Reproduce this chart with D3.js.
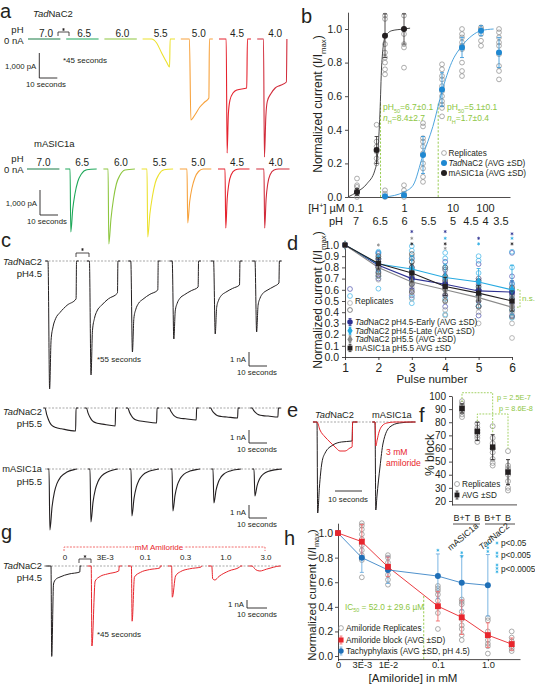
<!DOCTYPE html>
<html><head><meta charset="utf-8">
<script src="https://cdn.jsdelivr.net/npm/d3@7/dist/d3.min.js"></script>
<style>
html,body{margin:0;padding:0;background:#fff;}
svg text{font-family:"Liberation Sans",Arial,Helvetica,sans-serif;}
</style></head><body>
<svg id="fig" width="535" height="685" viewBox="0 0 535 685"></svg>
<script>
// ================= DATA =================
// ---- a: pH steps, colours, sweeps [time s, current nA]
const pHSteps = ["7.0","6.5","6.0","5.5","5.0","4.5","4.0"];
const pHColors = ["#1b7c46","#1fa85a","#8dc63f","#ece12e","#f7a23c","#e5232e","#d12c3b"];
const aTadSweeps = [
  [[0,0],[18,0]],
  [[0,0],[18,0]],
  [[0,0],[18,0]],
  [[0,0],[5,0],[7.8,-0.16],[10.6,-0.56],[13.3,-0.92],[15,-1.12],[15.3,0],[18,0]],
  [[0,0],[4.8,0],[5.6,-3.24],[7.8,-3.04],[10.6,-2.72],[13.3,-2.52],[15.6,-2.36],[15.9,0],[17.8,0]],
  [[0,0],[4.0,0],[4.5,-4.56],[5.2,-3.0],[6.1,-2.44],[7.8,-2.16],[10,-2.04],[15.4,-1.96],[15.8,0],[17.8,0]],
  [[0,0],[3.5,0],[4.0,-4.72],[4.8,-3.1],[5.6,-2.5],[7.5,-2.2],[10,-1.96],[13,-1.85],[16.2,-1.72],[16.5,0]]
];
const aAsicSweeps = [
  [[0,0],[18,0]],
  [[0,0],[2.7,0],[3.1,-2.52],[4.2,-1.6],[5.4,-1.0],[7,-0.5],[9,-0.2],[12,-0.03],[17.5,0]],
  [[0,0],[2.6,0],[3.0,-3.0],[4.2,-2.0],[5.6,-1.2],[7.2,-0.6],[9.2,-0.25],[12,-0.04],[17.5,0]],
  [[0,0],[3.0,0],[3.4,-2.72],[4.6,-1.8],[6,-1.1],[7.6,-0.55],[9.6,-0.22],[12.5,-0.03],[17.5,0]],
  [[0,0],[4.0,0],[4.4,-2.16],[5.5,-1.3],[6.8,-0.75],[8.4,-0.35],[10.4,-0.1],[13,0],[17.5,0]],
  [[0,0],[3.9,0],[4.3,-2.36],[5.1,-1.2],[6.0,-0.6],[7.4,-0.22],[9.5,-0.04],[12,0],[17.5,0]],
  [[0,0],[4.3,0],[4.7,-2.36],[5.5,-1.2],[6.4,-0.6],[7.8,-0.22],[9.9,-0.04],[12.4,0],[18.5,0]]
];

// ---- b: pH response
const bRepPH = [7, 6.65, 6.5, 6.5, 6, 6, 5.5, 5, 4.5, 4, 3.5];
const bRepVals = [
  [0.0,0.02,0.04,0.06,0.07,0.11],
  [0.2,0.23,0.27,0.3,0.33,0.43],
  [0.73,0.76,0.8,0.83,0.86,0.91,1.06,1.08],
  [0.0,0.02,0.04],
  [0.77,0.89,0.91,0.97,1.0,1.08],
  [0.0,0.02,0.04,0.07],
  [0.09,0.12,0.17,0.2,0.26,0.3,0.33,0.35,0.42,0.44],
  [0.48,0.53,0.55,0.57,0.6,0.63,0.66,0.7,0.72,0.76,0.79],
  [0.72,0.75,0.8,0.88,0.9,0.92,0.95,0.97,1.0],
  [0.9,0.93,0.97,1.0,1.01],
  [0.7,0.75,0.78,0.85,0.9,0.92,0.95,0.98,1.0]
];
const bAsicPH = [7, 6.65, 6.5, 6];
const bAsicMean = [0.03, 0.28, 0.96, 1.0];
const bAsicSD = [0.02, 0.08, 0.13, 0.09];
const bTadPH = [6.5, 6, 5.5, 5, 4.5, 4, 3.5];
const bTadMean = [0.005, 0.01, 0.25, 0.64, 0.89, 0.99, 0.86];
const bTadSD = [0.005, 0.01, 0.11, 0.1, 0.06, 0.03, 0.09];
const bAsicFit = [[7.16,0],[7.0,0.03],[6.82,0.08],[6.68,0.16],[6.63,0.26],[6.59,0.5],[6.56,0.78],[6.5,0.95],[6.32,0.99],[6.0,1.0],[5.84,1.005]];
const bTadFit = [[6.5,0],[6.0,0.03],[5.76,0.07],[5.5,0.25],[5.24,0.42],[5.0,0.63],[4.76,0.8],[4.5,0.9],[4.24,0.96],[4.0,0.99],[3.65,1.0]];
const bPH50 = [6.58, 5.1];
const bHLabels = ["0.1","1","10","100"];
const bHLabelPH = [7, 6, 5, 4];
const bPHLabels = ["7","6.5","6","5.5","5","4.5","4","3.5"];

// ---- c: pulse trains
const cTransShape = [[0.9,1],[1.7,0.46],[2.8,0.31],[4.2,0.22],[6.7,0.15],[10.6,0.07]];
const cPeak45 = [9.14, 8.14, 6.5, 5.57, 5.21, 5.07];
const cSus45  = [2.71, 2.29, 2.07, 1.86, 1.71, 1.57];
const cDur45  = [15.6, 15.6, 15.0, 14.4, 14.4, 13.3];
const cSlowShape = [[1,0.3],[2,0.52],[3,0.68],[4,0.77],[6,0.85],[9,0.9]];
const cLevel55 = [1.77, 1.38, 1.15, 0.92, 0.77, 0.69];
const cDur55 = [17, 16, 16, 15, 15, 14.4];
const cFastShape = [[0.5,1],[1.7,0.62],[3,0.38],[4.4,0.24],[6.5,0.13],[10,0.05],[14,0.01],[15.5,0]];
const cPeakM = [4.69, 4.08, 3.62, 3.23, 2.62, 2.08];

// ---- d: tachyphylaxis
const dPulses = [1,2,3,4,5,6];
const dMeans = [
  [1.0,0.82,0.70,0.65,0.59,0.58],
  [1.0,0.83,0.785,0.71,0.67,0.60],
  [1.0,0.80,0.67,0.60,0.53,0.445],
  [1.0,0.835,0.75,0.63,0.57,0.50]
];
const dSDs = [
  [0,0.05,0.09,0.1,0.1,0.1],
  [0,0.07,0.12,0.12,0.12,0.22],
  [0,0.06,0.1,0.12,0.1,0.1],
  [0,0.05,0.08,0.08,0.07,0.09]
];
const dReps = [
  [[],[0.70,0.75,0.80,0.85,0.88,0.92,0.93],[0.55,0.6,0.65,0.7,0.75,0.8,0.88],[0.45,0.55,0.62,0.66,0.7,0.78,0.85],[0.37,0.45,0.55,0.6,0.65,0.7,0.83],[0.37,0.45,0.55,0.6,0.65,0.72,0.93]],
  [[],[0.61,0.72,0.78,0.84,0.88,0.93,0.94],[0.48,0.53,0.68,0.78,0.88,0.95,0.99],[0.38,0.52,0.65,0.72,0.8,0.88,0.93],[0.46,0.55,0.62,0.68,0.75,0.86,0.9],[0.35,0.42,0.52,0.6,0.66,0.8,0.94]],
  [[],[0.69,0.72,0.75,0.8,0.83,0.88,0.9],[0.52,0.58,0.62,0.66,0.7,0.75,0.85,0.9],[0.37,0.42,0.5,0.56,0.62,0.68,0.72,0.78],[0.3,0.4,0.45,0.5,0.55,0.6,0.7],[0.17,0.3,0.4,0.45,0.5,0.55,0.62]],
  [[],[0.73,0.76,0.8,0.85,0.87,0.9],[0.58,0.65,0.72,0.76,0.8,0.85,0.92],[0.5,0.55,0.6,0.64,0.68,0.72,0.8],[0.45,0.5,0.55,0.6,0.63,0.68],[0.36,0.42,0.48,0.52,0.57,0.62]]
];
const dColors = ["#2e3192","#27aae1","#8a8a8a","#231f20"];
const dRepColors = ["#4d51ad","#3cb3e6","#9b9b9b","#555555"];
const dStars = [[2,1.0,2],[3,1.12,0],[3,1.06,2],[3,1.01,3],[4,1.12,0],[4,1.06,1],[4,1.01,3],[4,0.97,2],[5,1.06,0],[5,1.01,1],[6,1.1,0],[6,1.06,1],[6,1.01,3]];

// ---- e: amiloride example traces [s after onset, nA]
const eTadCtrl = [[-1.5,0],[0,0],[0.25,-9.1],[0.9,-6.5],[1.8,-4.1],[3,-3.1],[5.9,-2.3],[9,-2.0],[13,-1.9],[13.2,0],[15,0]];
const eTadAmil = [[-1.5,0],[0,0],[1.1,-0.8],[3,-1.5],[4.8,-2.0],[6.7,-2.5],[8.5,-2.9],[10.4,-2.9],[12.2,-2.6],[13,-2.5],[13.2,0],[15,0]];
const eAsicCtrl = [[-1,0],[0,0],[0.3,-8.8],[0.7,-7.5],[1.85,-4.5],[3,-2.1],[5.5,-0.5],[9,-0.1],[14,0],[15,0]];
const eAsicAmil = [[-1,0],[0,0],[0.3,-2.4],[0.8,-1.8],[1.5,-1.0],[2.6,-0.4],[4.4,-0.1],[7.4,0],[15,0]];

// ---- f: % block
const fCats = ["mASIC1a B+T","mASIC1a B","TadNaC2 B+T","TadNaC2 B"];
const fTickLabels = ["B+T","B","B+T","B"];
const fMean = [90.5, 73, 61, 42];
const fSD = [3.5, 7, 9.5, 9.5];
const fReps = [[84,86,88,90,92,94,96],[65,68,70,72,74,76,79],[47,49,52,57,60,64,68,77],[28,30,35,40,43,45,47,58]];
const fPvals = ["p = 2.5E-7","p = 8.6E-8"];

// ---- g: amiloride series traces [s after onset, nA]
const gConcLabels = ["0","3E-3","0.1","0.3","1.0","3.0"];
const gSweeps = [
  [[-3,0],[0,0],[0.4,-11.3],[1.4,-2.25],[2.5,-1.7],[5,-1.375],[10,-1.0],[16,-0.75],[16.2,0],[17,0]],
  [[-2,0],[0,0],[0.4,-10],[2.2,-1.875],[5,-1.3],[8.9,-1.0],[15.3,-0.625],[15.6,0],[17,0]],
  [[-2,0],[0,0],[0.4,-6.9],[1.7,-1.375],[5,-0.8],[10,-0.45],[15.8,-0.25],[16.1,0],[17,0]],
  [[-2,0],[0,0],[0.4,-3.9],[2.2,-1.25],[5,-0.7],[10,-0.35],[16.4,-0.125],[16.7,0],[17,0]],
  [[-2,0],[0,0],[0.5,-1.6],[1.7,-1.75],[4,-1.3],[9.4,-0.625],[15.5,-0.125],[16,0],[17,0]],
  [[-2,0],[0,0],[2,-0.45],[4.4,-0.625],[8,-0.4],[12,-0.15],[15.5,0],[16,0]]
];

// ---- h: dose response
const hConc = [0, 3e-3, 1e-2, 0.1, 0.3, 1.0, 3.0];
const hBlock = [1.0, 0.93, 0.725, 0.405, 0.315, 0.17, 0.097];
const hBlockSD = [0, 0.14, 0.08, 0.12, 0.14, 0.10, 0.05];
const hTachy = [1.0, 0.80, 0.70, 0.65, 0.595, 0.575];
const hTachySD = [0, 0.12, 0.11, 0.18, 0.22, 0.25];
const hReps = [
  [],
  [0.64,0.78,0.82,0.86,0.9,0.95,0.99,1.03,1.06,1.08],
  [0.58,0.62,0.66,0.70,0.73,0.76,0.80,0.82],
  [0.22,0.35,0.40,0.45,0.50,0.53,0.55,0.57],
  [0.13,0.17,0.22,0.25,0.30,0.36,0.42,0.44,0.46],
  [0.02,0.08,0.10,0.13,0.17,0.20,0.29,0.31],
  [0.04,0.06,0.08,0.10,0.12,0.15,0.20]
];
const hTickConc = [0, 3e-3, 1e-2, 0.1, 1.0];
const hTickLabels = ["0","3E-3","1E-2","0.1","1.0"];
const hStars = [[0.1,0.86],[0.3,0.84],[0.3,0.81],[1.0,0.91],[1.0,0.88],[1.0,0.85]];
const hIC50 = 0.052;

// ================= DRAWING =================
const svg = d3.select("#fig");
const INK = "#231f20", GREEN = "#8dc63f", RED = "#e8262d", LBLUE = "#29abe2";

function T(x, y, parts, o = {}) {
  const fs = o.size || 9;
  let t;
  if (o.rotate != null) {
    t = svg.append("g").attr("transform", `translate(${x},${y}) rotate(${o.rotate})`).append("text").attr("x", 0).attr("y", 0);
  } else {
    t = svg.append("text").attr("x", x).attr("y", y);
  }
  t.attr("font-size", fs).attr("fill", o.fill || INK).attr("text-anchor", o.anchor || "start");
  let shift = 0;
  (Array.isArray(parts) ? parts : [parts]).forEach(p => {
    if (typeof p === "string") p = { s: p };
    const sp = t.append("tspan").text(p.s);
    const target = p.sub ? fs * 0.3 : p.sup ? -fs * 0.4 : 0;
    if (target !== shift) { sp.attr("dy", target - shift); shift = target; }
    if (p.sub || p.sup) sp.attr("font-size", fs * 0.65);
    if (p.i) sp.attr("font-style", "italic");
  });
  return t;
}
const TAD = { s: "Tad", i: true };
function L(x1, y1, x2, y2, color, w, dash) {
  const l = svg.append("line").attr("x1", x1).attr("y1", y1).attr("x2", x2).attr("y2", y2)
    .attr("stroke", color || INK).attr("stroke-width", w || 0.8);
  if (dash) l.attr("stroke-dasharray", dash);
  return l;
}
function P(d, color, w, dash) {
  const p = svg.append("path").attr("d", d).attr("fill", "none").attr("stroke", color || INK).attr("stroke-width", w || 0.8);
  if (dash) p.attr("stroke-dasharray", dash);
  return p;
}
function C(x, y, r, stroke, fill, w) {
  return svg.append("circle").attr("cx", x).attr("cy", y).attr("r", r)
    .attr("stroke", stroke || "none").attr("fill", fill || "none").attr("stroke-width", w || 0.7);
}
function S(type, x, y, size, fill) {
  svg.append("path").attr("d", d3.symbol().type(type).size(size)()).attr("transform", `translate(${x},${y})`).attr("fill", fill);
}
function E(x, yA, yB, color, cap, w) {
  L(x, yA, x, yB, color, w || 0.8);
  L(x - cap, yA, x + cap, yA, color, w || 0.8);
  L(x - cap, yB, x + cap, yB, color, w || 0.8);
}
function star(x, y, color, r) {
  r = r || 1.7;
  const d = [0, 60, 120].map(a => {
    const rad = a * Math.PI / 180, ddx = r * Math.sin(rad), ddy = r * Math.cos(rad);
    return `M${x - ddx},${y - ddy}L${x + ddx},${y + ddy}`;
  }).join("");
  P(d, color, 0.75);
}
function trace(points, x0, tS, yS, color, w) {
  svg.append("path").datum(points)
    .attr("d", d3.line().x(d => x0 + tS(d[0])).y(d => yS(d[1])).curve(d3.curveMonotoneX))
    .attr("fill", "none").attr("stroke", color).attr("stroke-width", w || 1).attr("stroke-linejoin", "round");
}
function styleAxis(g, fs) {
  g.attr("font-size", fs);
  g.selectAll("path.domain").attr("stroke", INK).attr("stroke-width", 0.8);
  g.selectAll(".tick line").attr("stroke", INK).attr("stroke-width", 0.8);
  g.selectAll(".tick text").attr("fill", INK);
}
function scaleBar(x, yTop, vLen, hLen, vLab, hLab, hx) {
  P(`M${x},${yTop}V${yTop + vLen}H${x + hLen}`, INK, 0.9);
  if (vLab) T(x - 3, yTop + vLen / 2 + 3, vLab, { size: 7.8, anchor: "end" });
  T(hx, yTop + vLen + 9, hLab, { size: 7.8 });
}

// panel letters
[["a",0,18],["b",301,23],["c",1,247],["d",287,250],["e",287,417],["f",419,422],["g",1,539],["h",284,545]]
  .forEach(([s, x, y]) => T(x, y, s, { size: 20 }));

// ---------- Panel a ----------
const aT = d3.scaleLinear().domain([0, 10]).range([0, 18]);
const aY1 = d3.scaleLinear().domain([0, -1]).range([39, 64]);
const aY2 = d3.scaleLinear().domain([0, -1]).range([169, 194]);
const aStep = 38.2;
aTadSweeps.forEach((s, i) => trace(s, 28 + i * aStep, aT, aY1, pHColors[i], 1.1));
aAsicSweeps.forEach((s, i) => trace(s, 27 + i * aStep, aT, aY2, pHColors[i], 1.1));
T(33, 17, [TAD, "NaC2"], { size: 9.5 });
T(34, 146.5, "mASIC1a", { size: 9.5 });
T(23.5, 33, "pH", { size: 9.5, anchor: "end" });
T(23.5, 43.5, "0 nA", { size: 9.5, anchor: "end" });
T(23.5, 162, "pH", { size: 9.5, anchor: "end" });
T(23.5, 173, "0 nA", { size: 9.5, anchor: "end" });
pHSteps.forEach((p, i) => {
  T(46 + i * aStep, 36.5, p, { size: 10, anchor: "middle" });
  T(43.5 + i * 38.7, 165.5, p, { size: 10, anchor: "middle" });
});
P("M58,36V32H69V36", INK, 0.8);
star(63.5, 29.5, INK, 1.4);
T(63, 63, "*45 seconds", { size: 8 });
scaleBar(39.3, aY1(0) + 14, aY1(-1) - aY1(0), aT(10), "1,000 pA", "10 seconds", 26);
scaleBar(40, aY2(0) + 21, aY2(-1) - aY2(0), aT(10), "1,000 pA", "10 seconds", 27);

// ---------- Panel b ----------
const bx = d3.scaleLinear().domain([7.16,7,6.5,6,5.5,5,4.5,4,3.5,3.2]).range([348,357,385,404,423,442,462,481,499,510]);
const by = d3.scaleLinear().domain([0, 1.1]).range([197, 12.2]);
const bxl = d3.scaleLinear().domain([7,5,4.5,4,3.5]).range([356,453,471,485.5,501]);
styleAxis(svg.append("g").attr("transform", "translate(348,0)")
  .call(d3.axisLeft(by).tickValues([0,0.2,0.4,0.6,0.8,1.0]).tickFormat(d3.format(".1f")).tickSize(3).tickSizeOuter(0)), 10.5);
styleAxis(svg.append("g").attr("transform", "translate(0,197)")
  .call(d3.axisBottom(bx).tickValues([]).tickSizeOuter(0)), 10);
bPH50.forEach(p => L(bx(p), by(0), bx(p), by(0.56), GREEN, 0.9, "2.2,1.6"));
bRepPH.forEach((p, i) => bRepVals[i].forEach(v => C(bx(p), by(v), 2.4, "#8a8a8a", "none", 0.7)));
const bLine = d3.line().x(d => bx(d[0])).y(d => by(d[1])).curve(d3.curveMonotoneX);
P(bLine(bAsicFit), "#333", 0.9);
P(bLine(bTadFit), "#3a9ad9", 0.9);
bAsicPH.forEach((p, i) => { E(bx(p), by(bAsicMean[i] + bAsicSD[i]), by(bAsicMean[i] - bAsicSD[i]), INK, 2, 0.8); C(bx(p), by(bAsicMean[i]), 3, "none", INK); });
bTadPH.forEach((p, i) => { E(bx(p), by(bTadMean[i] + bTadSD[i]), by(bTadMean[i] - bTadSD[i]), "#2a8fd6", 2, 0.8); C(bx(p), by(bTadMean[i]), 3, "none", "#1f88d1"); });
T(383, 110, ["pH", { s: "50", sub: true }, "=6.7±0.1"], { size: 8.5, fill: GREEN });
T(383, 121, [{ s: "n", i: true }, { s: "H", sub: true }, "=8.4±2.7"], { size: 8.5, fill: GREEN });
T(447, 110, ["pH", { s: "50", sub: true }, "=5.1±0.1"], { size: 8.5, fill: GREEN });
T(447, 121, [{ s: "n", i: true }, { s: "H", sub: true }, "=1.7±0.4"], { size: 8.5, fill: GREEN });
C(444, 153, 2.4, "#8a8a8a");
T(448.5, 156, "Replicates", { size: 8.2 });
C(444, 163, 3, "none", "#1f88d1");
T(448.5, 166, [TAD, "NaC2 (AVG ±SD)"], { size: 8.2 });
C(444, 173, 3, "none", INK);
T(448.5, 176, "mASIC1a (AVG ±SD)", { size: 8.2 });
T(322, 104, ["Normalized current (I/I", { s: "max", sub: true }, ")"], { size: 12, anchor: "middle", rotate: -90 });
T(345, 212, ["[H", { s: "+", sup: true }, "] µM"], { size: 11, anchor: "end" });
T(343, 225, "pH", { size: 11, anchor: "end" });
bHLabels.forEach((s, i) => T(bxl(bHLabelPH[i]), 212, s, { size: 11, anchor: "middle" }));
bPHLabels.forEach(s => T(bxl(+s), 225, s, { size: 11, anchor: "middle" }));

// ---------- Panel c ----------
const cT = d3.scaleLinear().domain([0, 10]).range([0, 18]);
const cY45 = d3.scaleLinear().domain([0, -1]).range([261, 275]);
const cY55 = d3.scaleLinear().domain([0, -1]).range([408, 421]);
const cYM = d3.scaleLinear().domain([0, -1]).range([469, 482]);
[261, 408, 469].forEach(y => L(45, y, 282, y, "#6d6d6d", 0.6, "2,1.5"));
cPeak45.forEach((Pk, i) => {
  const Sv = cSus45[i], d = cDur45[i];
  const pts = [[-1.5, 0], [0, 0]].concat(cTransShape.map(([t, g]) => [t, -(Sv + (Pk - Sv) * g)]), [[d, -Sv], [d + 0.25, 0], [d + 1.5, 0]]);
  trace(pts, 48 + i * 41.4, cT, cY45, INK, 1);
});
cLevel55.forEach((Lv, i) => {
  const d = cDur55[i];
  const pts = [[-1, 0], [0, 0]].concat(cSlowShape.map(([t, f]) => [t, -Lv * f]), [[d, -Lv], [d + 0.25, 0], [d + 1.5, 0]]);
  trace(pts, 45 + i * 41.4, cT, cY55, INK, 1.1);
});
cPeakM.forEach((Pk, i) => {
  const pts = [[-1, 0], [0, 0]].concat(cFastShape.map(([t, f]) => [t, -Pk * f]));
  trace(pts, 49 + i * 41, cT, cYM, INK, 1.1);
});
T(42, 265, [TAD, "NaC2"], { size: 9.3, anchor: "end" });
T(42, 277, "pH4.5", { size: 9.5, anchor: "end" });
T(42, 415, [TAD, "NaC2"], { size: 9.3, anchor: "end" });
T(42, 427, "pH5.5", { size: 9.5, anchor: "end" });
T(42, 472, "mASIC1a", { size: 9.3, anchor: "end" });
T(42, 485, "pH5.5", { size: 9.5, anchor: "end" });
P("M76,257V253H89V257", INK, 0.8);
star(82.5, 249.5, INK, 1.4);
T(97, 362, "*55 seconds", { size: 8 });
scaleBar(249, 352, cY45(-1) - cY45(0), cT(10), "1 nA", "10 seconds", 237);
scaleBar(249, 430, cY55(-1) - cY55(0), cT(10), "1 nA", "10 seconds", 237);
scaleBar(249, 505, cYM(-1) - cYM(0), cT(10), "1 nA", "10 seconds", 237);

// ---------- Panel d ----------
const dx = d3.scaleLinear().domain([1, 6]).range([345, 512]);
const dy = d3.scaleLinear().domain([0, 1]).range([357, 245]);
styleAxis(svg.append("g").attr("transform", "translate(345,0)")
  .call(d3.axisLeft(dy).tickValues([0,0.1,0.2,0.3,0.4,0.5,0.6,0.7,0.8,0.9,1.0]).tickFormat(d3.format(".1f")).tickSize(3).tickSizeOuter(0)), 10.5);
styleAxis(svg.append("g").attr("transform", "translate(0,357)")
  .call(d3.axisBottom(dx).tickValues(dPulses).tickFormat(d3.format("d")).tickSize(3).tickSizeOuter(0)), 12);
dReps.forEach((series, k) => series.forEach((vals, j) => vals.forEach(v => C(dx(dPulses[j]), dy(v), 2.4, dRepColors[k], "none", 0.7))));
const dSym = [d3.symbolCircle, d3.symbolDiamond, d3.symbolDiamond, d3.symbolSquare];
const dLine = d3.line().x((d, j) => dx(dPulses[j])).y(d => dy(d));
dMeans.forEach((m, k) => P(dLine(m), dColors[k], 1.1));
dMeans.forEach((m, k) => m.forEach((v, j) => {
  if (dSDs[k][j] > 0) E(dx(dPulses[j]), dy(v + dSDs[k][j]), dy(v - dSDs[k][j]), dColors[k], 2, 0.8);
  S(dSym[k], dx(dPulses[j]), dy(v), 26, dColors[k]);
}));
dStars.forEach(([p, v, k]) => star(dx(p), dy(v), dColors[k], 1.6));
// n.s. bracket
P(`M${dx(6) + 5},${dy(dMeans[1][5])}H${dx(6) + 8}V${dy(dMeans[2][5])}H${dx(6) + 5}`, GREEN, 0.8, "1.8,1.3");
T(dx(6) + 10, (dy(dMeans[1][5]) + dy(dMeans[2][5])) / 2 + 3, "n.s.", { size: 8, fill: GREEN });
// legend
[0, 1, 2, 3].forEach(k => C(350, 289 + k * 7, 2.4, dRepColors[k], "none", 0.7));
T(355, 304, "Replicates", { size: 8.2 });
const dLegText = [[TAD, "NaC2 pH4.5-Early (AVG ±SD)"], [TAD, "NaC2 pH4.5-Late (AVG ±SD)"], [TAD, "NaC2 pH5.5 (AVG ±SD)"], ["mASIC1a pH5.5 AVG ±SD"]];
dLegText.forEach((tx, k) => {
  const y = 322 + k * 8.7;
  E(350, y - 3.5, y + 3.5, dColors[k], 1.5, 0.8);
  S(dSym[k], 350, y, 24, dColors[k]);
  T(355, y + 3, tx, { size: 8.2 });
});
T(322, 300, ["Normalized current (I/I", { s: "max", sub: true }, ")"], { size: 12, anchor: "middle", rotate: -90 });
T(432, 383, "Pulse number", { size: 11.5, anchor: "middle" });

// ---------- Panel e ----------
const eT = d3.scaleLinear().domain([0, 10]).range([0, 27]);
const eY = d3.scaleLinear().domain([0, -1]).range([422, 432]);
L(313, 422, 415, 422, "#6d6d6d", 0.6, "2,1.5");
trace(eTadCtrl, 317, eT, eY, INK, 1);
trace(eTadAmil, 317, eT, eY, RED, 1);
trace(eAsicCtrl, 375, eT, eY, INK, 1);
trace(eAsicAmil, 375, eT, eY, RED, 1);
T(315, 418, [TAD, "NaC2"], { size: 9.3 });
T(372, 418, "mASIC1a", { size: 9.3 });
T(386, 455, "3 mM", { size: 8.6, fill: RED });
T(386, 466, "amiloride", { size: 8.6, fill: RED });
L(335, 491, 335 + eT(10), 491, INK, 0.9);
T(328, 502, "10 seconds", { size: 7.8 });

// ---------- Panel f ----------
const fx = d3.scalePoint().domain(fCats).range([462, 508]);
const fy = d3.scaleLinear().domain([17, 100]).range([504.9, 396]);
styleAxis(svg.append("g").attr("transform", "translate(452,0)")
  .call(d3.axisLeft(fy).tickValues([20,30,40,50,60,70,80,90,100]).tickSize(3).tickSizeOuter(0)), 10);
L(452, fy(17), 517, fy(17), INK, 0.8);
fCats.forEach((c, i) => {
  fReps[i].forEach(v => C(fx(c), fy(v), 2.5, "#8a8a8a", "none", 0.7));
  E(fx(c), fy(fMean[i] + fSD[i]), fy(fMean[i] - fSD[i]), INK, 2, 0.9);
  S(d3.symbolSquare, fx(c), fy(fMean[i]), 30, INK);
  T(fx(c), 521, fTickLabels[i], { size: 9, anchor: "middle" });
});
L(453, 524, 480, 524, INK, 0.8);
L(485, 524, 515, 524, INK, 0.8);
T(479, 527, "mASIC1a", { size: 8.7, anchor: "end", rotate: -40 });
T(510, 527, [TAD, "NaC2"], { size: 8.7, anchor: "end", rotate: -40 });
P(`M${fx(fCats[0])},${fy(fMean[0] + fSD[0]) - 2}V${fy(102.5)}H${fx(fCats[2])}V${fy(fMean[2] + fSD[2]) - 1}`, GREEN, 0.8, "1.8,1.3");
P(`M${fx(fCats[1])},${fy(fMean[1] + fSD[1]) - 1}V${fy(86.3)}H${fx(fCats[3])}V${fy(60)}`, GREEN, 0.8, "1.8,1.3");
T(497, 400, fPvals[0], { size: 7.3, fill: GREEN });
T(499, 411, fPvals[1], { size: 7.3, fill: GREEN });
C(457, 484, 2.5, "#8a8a8a");
T(462, 487, "Replicates", { size: 8.2 });
E(457, 491, 499, INK, 1.5, 0.8);
S(d3.symbolSquare, 457, 495, 24, INK);
T(462, 498, "AVG ±SD", { size: 8.2 });
T(434, 455, "% block", { size: 12, anchor: "middle", rotate: -90 });

// ---------- Panel g ----------
const gT = d3.scaleLinear().domain([0, 10]).range([0, 18]);
const gY = d3.scaleLinear().domain([0, -1]).range([566, 574]);
L(44, 566, 281, 566, "#6d6d6d", 0.6, "2,1.5");
gSweeps.forEach((s, i) => trace(s, 51 + i * 40.2, gT, gY, i === 0 ? INK : RED, 1));
P("M64,551V547H265V551", "#ef4a4a", 0.8, "2,1.3");
svg.append("rect").attr("x", 134).attr("y", 542).attr("width", 50).attr("height", 9).attr("fill", "#fff");
T(159, 550, "mM Amiloride", { size: 8, anchor: "middle", fill: RED });
gConcLabels.forEach((s, i) => T(51 + i * 40.2 + 14, 560, s, { size: 8, anchor: "middle" }));
P("M79,563V559H91V563", INK, 0.8);
star(85, 556.5, INK, 1.4);
T(42, 569, [TAD, "NaC2"], { size: 9.3, anchor: "end" });
T(42, 581, "pH4.5", { size: 9.5, anchor: "end" });
T(97, 637, "*45 seconds", { size: 8 });
scaleBar(247, 600, gY(-1) - gY(0), 20, "1 nA", "10 seconds", 237);

// ---------- Panel h ----------
const hx = d3.scaleLog().domain([1e-3, 4.4]).range([338, 520]);
const hy = d3.scaleLinear().domain([-0.025, 1.08]).range([659.1, 523.2]);
const hX = c => hx(c === 0 ? 1e-3 : c);
styleAxis(svg.append("g").attr("transform", "translate(338,0)")
  .call(d3.axisLeft(hy).tickValues([0,0.2,0.4,0.6,0.8,1.0]).tickFormat(d3.format(".1f")).tickSize(3).tickPadding(2).tickSizeOuter(0)), 10.5);
const hxAx = svg.append("g").attr("transform", `translate(0,${hy(-0.025)})`)
  .call(d3.axisBottom(hx).tickValues(hTickConc.map(c => c === 0 ? 1e-3 : c)).tickFormat((d, i) => hTickLabels[i]).tickSize(2).tickPadding(0.5).tickSizeOuter(0));
styleAxis(hxAx, 9.3);
L(hX(hIC50), hy(0) + 3, hX(hIC50), hy(0.5), GREEN, 0.9, "2.2,1.6");
hConc.forEach((c, i) => hReps[i].forEach(v => C(hX(c), hy(v), 2.4, "#8a8a8a", "none", 0.7)));
const hLine = d3.line().x((d, i) => hX(hConc[i])).y(d => hy(d));
P(hLine(hBlock), RED, 0.9);
P(hLine(hTachy), "#3b84c6", 0.9);
hTachy.forEach((v, i) => { if (hTachySD[i] > 0) E(hX(hConc[i]), hy(v + hTachySD[i]), hy(v - hTachySD[i]), "#6eaee0", 2, 0.9); });
hBlock.forEach((v, i) => { if (hBlockSD[i] > 0) E(hX(hConc[i]), hy(v + hBlockSD[i]), hy(v - hBlockSD[i]), "#f26b6b", 2, 0.9); });
hTachy.forEach((v, i) => C(hX(hConc[i]), hy(v), 3, "none", "#1f6fb7"));
hBlock.forEach((v, i) => S(d3.symbolSquare, hX(hConc[i]), hy(v), 34, RED));
hStars.forEach(([c, v]) => star(hX(c), hy(v), LBLUE, 1.5));
// p legend
star(497, 543, LBLUE, 1.5);
T(501, 546, "p<0.05", { size: 8.2 });
[0, 1].forEach(k => star(497, 553 + k * 3.4, LBLUE, 1.5));
T(501, 558, "p<0.005", { size: 8.2 });
[0, 1, 2].forEach(k => star(497, 565 + k * 3.4, LBLUE, 1.5));
T(501, 572, "p<0.0005", { size: 8.2 });
T(345, 610, ["IC", { s: "50", sub: true }, " = 52.0 ± 29.6 µM"], { size: 8.3, fill: GREEN });
C(341, 628, 2.4, "#8a8a8a");
T(346, 631, "Amiloride Replicates", { size: 8.3 });
E(341, 636, 644, "#f26b6b", 1.5, 0.8);
S(d3.symbolSquare, 341, 640, 26, RED);
T(346, 643, "Amiloride block (AVG ±SD)", { size: 8.3 });
E(341, 647, 655, "#6eaee0", 1.5, 0.8);
C(341, 651, 2.7, "none", "#1f6fb7");
T(346, 654, "Tachyphylaxis (AVG ±SD, pH 4.5)", { size: 8.3 });
T(316, 595, ["Normalized current (I/I", { s: "max", sub: true }, ")"], { size: 11.5, anchor: "middle", rotate: -90 });
T(413, 682, "[Amiloride] in mM", { size: 11.5, anchor: "middle" });
</script></body></html>
